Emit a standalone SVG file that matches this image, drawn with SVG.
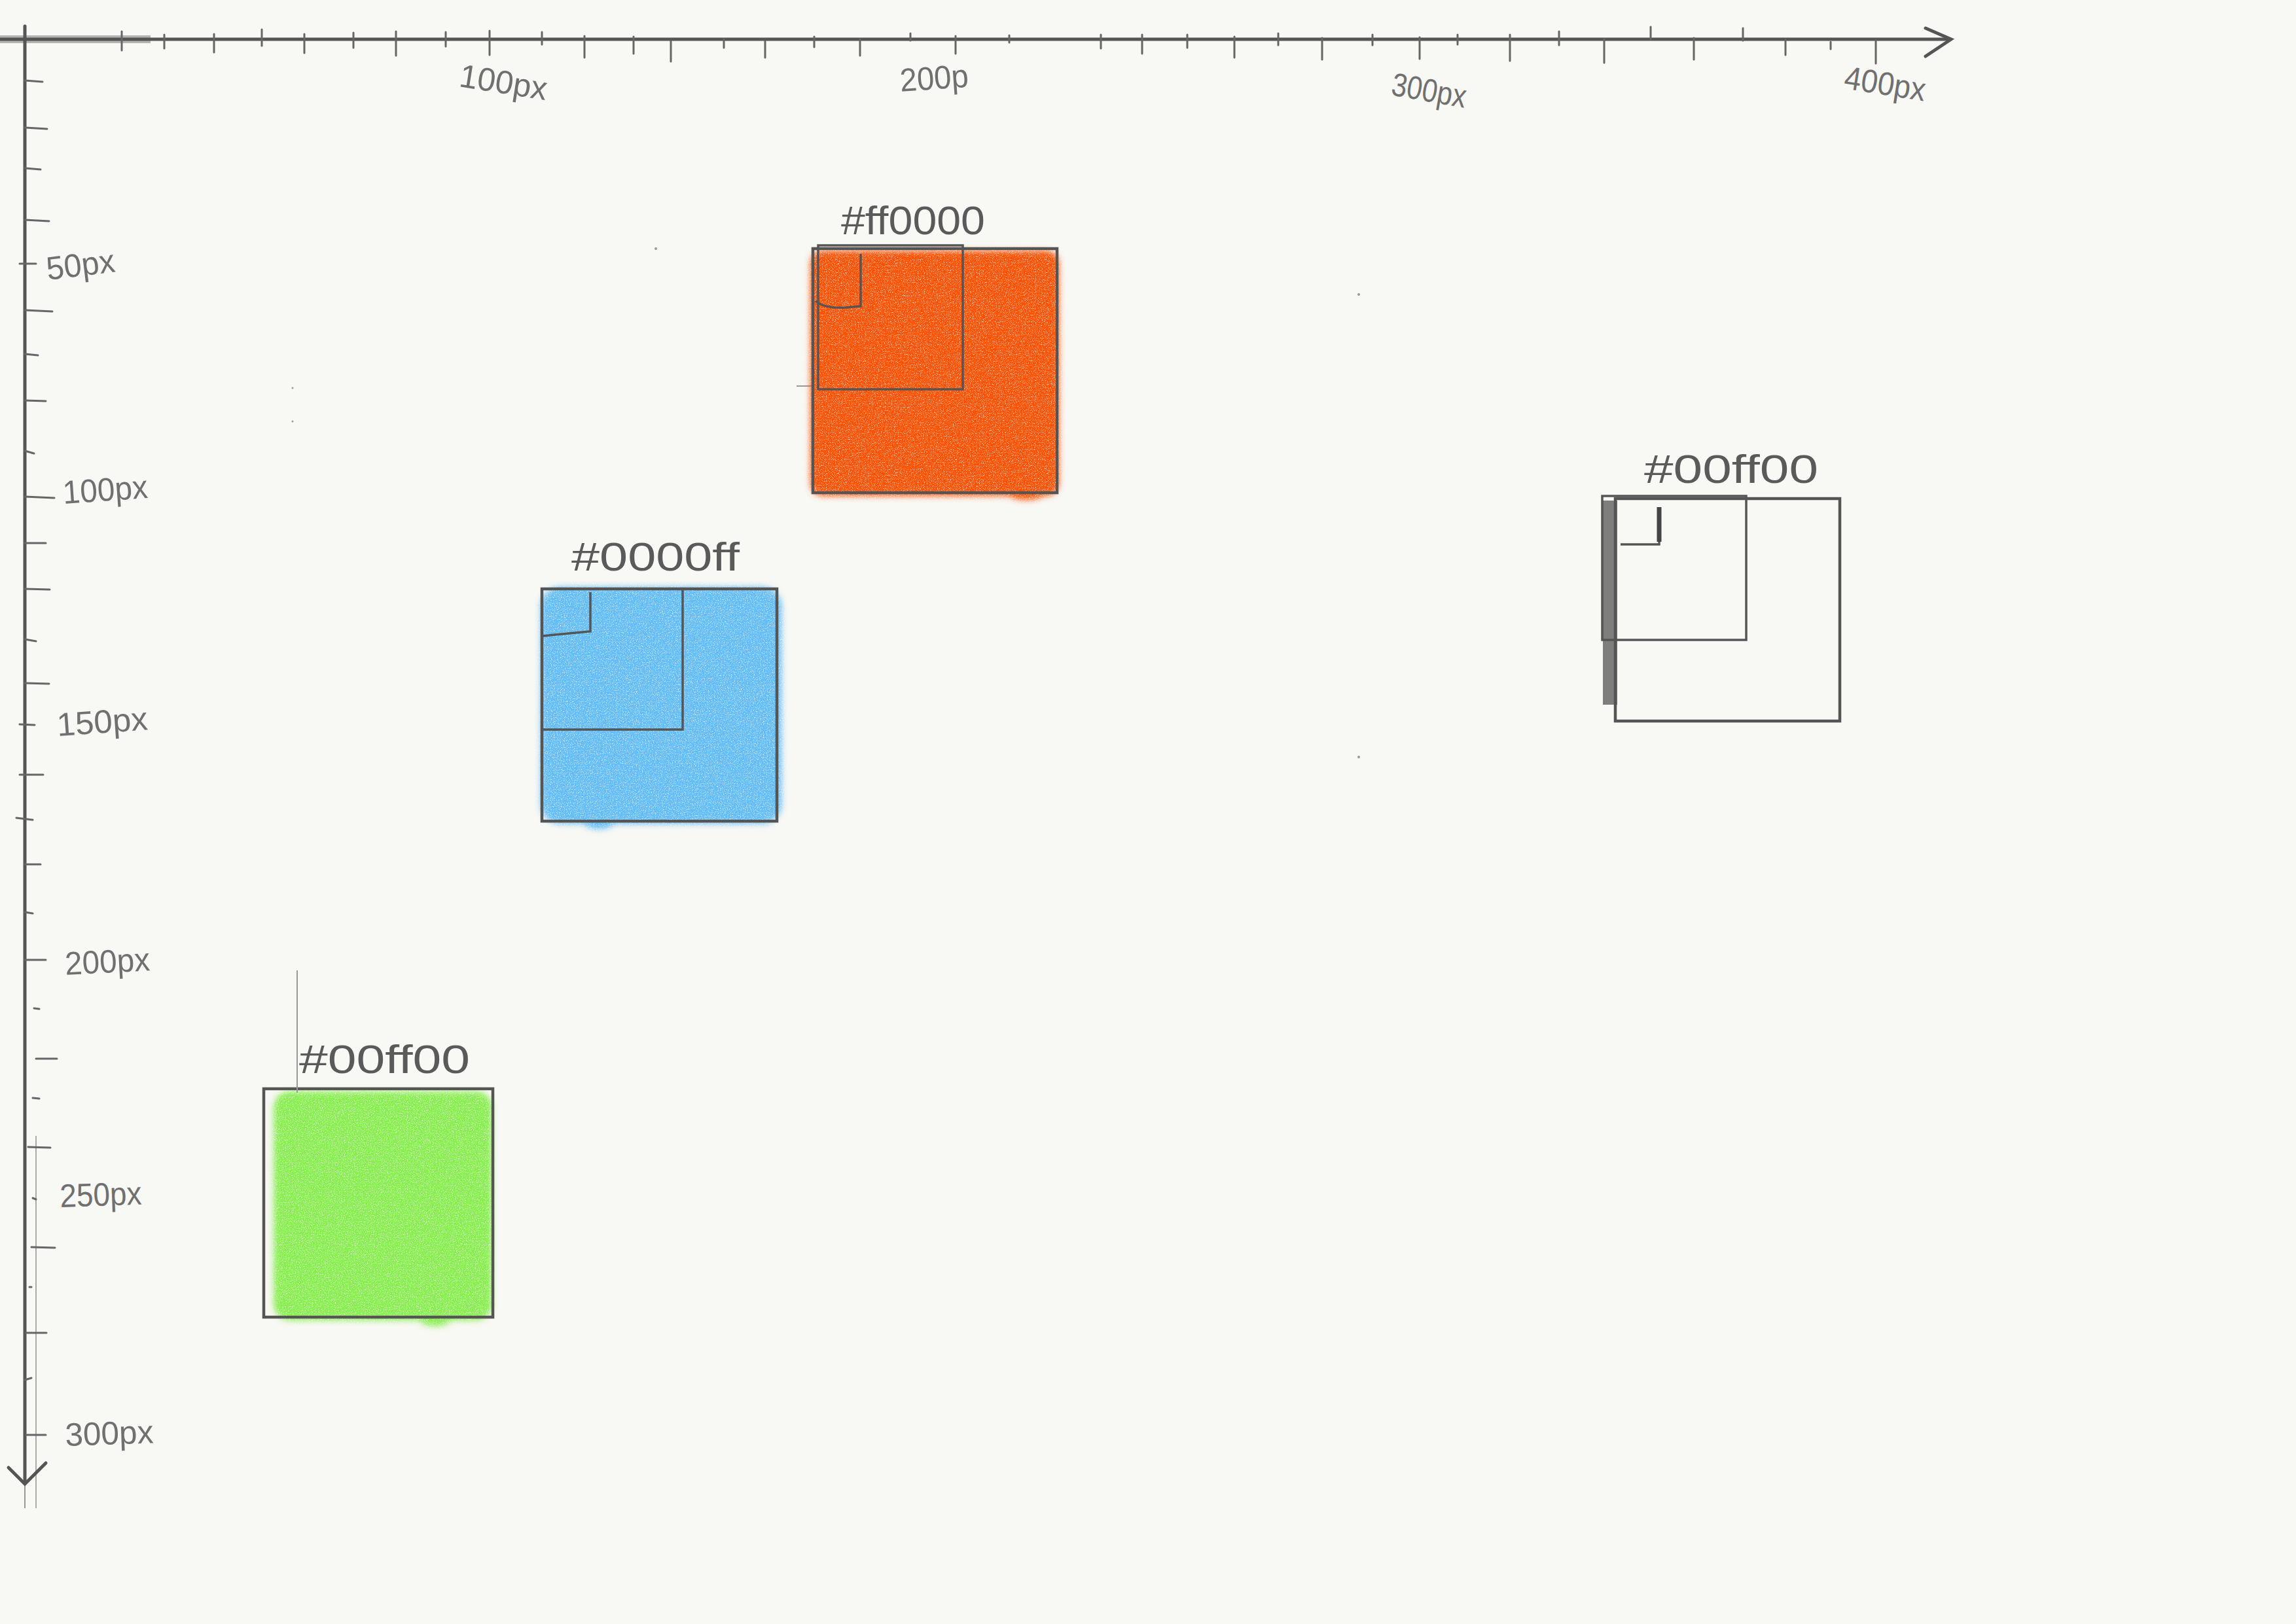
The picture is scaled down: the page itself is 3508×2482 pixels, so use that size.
<svg xmlns="http://www.w3.org/2000/svg" width="3508" height="2482" viewBox="0 0 3508 2482">
<defs>
<style>
.ax{stroke:#555;stroke-width:5;fill:none;stroke-linecap:round}
.tk{stroke:#666;stroke-width:3;fill:none;stroke-linecap:round}
.box{stroke:#555;stroke-width:4.5;fill:none}
.inner{stroke:#555;stroke-width:3.5;fill:none}
.lbl{font-family:"Liberation Sans","DejaVu Sans",sans-serif;font-size:50px;fill:#707070}
.hex{font-family:"Liberation Sans","DejaVu Sans",sans-serif;font-size:62px;fill:#5a5a5a}
</style>
<filter id="crayon" x="-5%" y="-5%" width="110%" height="110%">
<feGaussianBlur in="SourceGraphic" stdDeviation="5" result="b"/>
<feTurbulence type="fractalNoise" baseFrequency="0.8" numOctaves="2" seed="3" result="n"/>
<feColorMatrix in="n" type="matrix" values="0 0 0 0 0  0 0 0 0 0  0 0 0 0 0  0 0 0 3 -0.45" result="m"/>
<feComposite in="b" in2="m" operator="in"/>
</filter>
</defs>
<rect x="0" y="0" width="3508" height="2482" fill="#f8f8f4"/>

<g id="axes">
<line x1="0" y1="60" x2="230" y2="60" stroke="#888" stroke-width="12" opacity="0.6"/>
<line class="ax" x1="0" y1="60" x2="2978" y2="60"/>
<polyline class="ax" points="2942,43 2981,60 2942,86"/>
<line class="ax" x1="38" y1="40" x2="38" y2="2265"/>
<line x1="38" y1="2265" x2="38" y2="2305" stroke="#999" stroke-width="2"/>
<line x1="55" y1="1736" x2="55" y2="2305" stroke="#aaa" stroke-width="2"/>
<polyline class="ax" points="13,2243 38,2268 70,2236"/>
<g class="tk">
<line x1="186" y1="48" x2="186" y2="77"/><line x1="251" y1="53" x2="251" y2="74"/>
<line x1="327" y1="52" x2="327" y2="80"/><line x1="400" y1="45" x2="400" y2="70"/>
<line x1="465" y1="52" x2="465" y2="81"/><line x1="540" y1="50" x2="540" y2="73"/>
<line x1="605" y1="48" x2="605" y2="85"/><line x1="681" y1="49" x2="681" y2="71"/>
<line x1="748" y1="47" x2="748" y2="84"/><line x1="828" y1="49" x2="828" y2="68"/>
<line x1="893" y1="55" x2="893" y2="88"/><line x1="968" y1="56" x2="968" y2="82"/>
<line x1="1025" y1="63" x2="1025" y2="94"/><line x1="1106" y1="60" x2="1106" y2="73"/>
<line x1="1169" y1="63" x2="1169" y2="88"/><line x1="1244" y1="56" x2="1244" y2="72"/>
<line x1="1314" y1="60" x2="1314" y2="85"/><line x1="1391" y1="51" x2="1391" y2="62"/>
<line x1="1460" y1="55" x2="1460" y2="82"/><line x1="1542" y1="54" x2="1542" y2="65"/>
<line x1="1682" y1="53" x2="1682" y2="74"/><line x1="1745" y1="53" x2="1745" y2="82"/>
<line x1="1814" y1="53" x2="1814" y2="73"/><line x1="1886" y1="56" x2="1886" y2="88"/>
<line x1="1953" y1="51" x2="1953" y2="69"/><line x1="2020" y1="58" x2="2020" y2="91"/>
<line x1="2097" y1="53" x2="2097" y2="69"/><line x1="2169" y1="57" x2="2169" y2="90"/>
<line x1="2227" y1="53" x2="2227" y2="68"/><line x1="2307" y1="53" x2="2307" y2="93"/>
<line x1="2382" y1="48" x2="2382" y2="69"/><line x1="2451" y1="60" x2="2451" y2="96"/>
<line x1="2522" y1="41" x2="2522" y2="60"/><line x1="2588" y1="58" x2="2588" y2="91"/>
<line x1="2663" y1="43" x2="2663" y2="62"/><line x1="2728" y1="60" x2="2728" y2="84"/>
<line x1="2797" y1="64" x2="2797" y2="75"/><line x1="2866" y1="62" x2="2866" y2="97"/>
</g>
<g class="tk">
<line x1="38" y1="123" x2="65" y2="125"/><line x1="38" y1="195" x2="72" y2="197"/>
<line x1="38" y1="257" x2="62" y2="259"/><line x1="38" y1="336" x2="75" y2="338"/>
<line x1="30" y1="403" x2="55" y2="403"/><line x1="38" y1="474" x2="80" y2="476"/>
<line x1="38" y1="541" x2="58" y2="543"/><line x1="38" y1="612" x2="70" y2="613"/>
<line x1="38" y1="689" x2="52" y2="693"/><line x1="38" y1="759" x2="83" y2="761"/>
<line x1="38" y1="830" x2="70" y2="830"/><line x1="38" y1="900" x2="76" y2="901"/>
<line x1="38" y1="977" x2="55" y2="980"/><line x1="38" y1="1044" x2="75" y2="1045"/>
<line x1="30" y1="1107" x2="53" y2="1108"/><line x1="30" y1="1184" x2="66" y2="1184"/>
<line x1="25" y1="1250" x2="50" y2="1253"/><line x1="38" y1="1321" x2="62" y2="1321"/>
<line x1="38" y1="1394" x2="50" y2="1396"/><line x1="38" y1="1467" x2="70" y2="1467"/>
<line x1="52" y1="1541" x2="60" y2="1542"/><line x1="55" y1="1618" x2="87" y2="1618"/>
<line x1="50" y1="1678" x2="60" y2="1679"/><line x1="43" y1="1753" x2="77" y2="1754"/>
<line x1="50" y1="1831" x2="55" y2="1833"/><line x1="48" y1="1906" x2="84" y2="1907"/>
<line x1="45" y1="1967" x2="48" y2="1967"/><line x1="40" y1="2037" x2="71" y2="2037"/>
<line x1="38" y1="2109" x2="48" y2="2106"/><line x1="40" y1="2193" x2="70" y2="2193"/>
</g>
<g class="lbl">
<text x="700" y="132" transform="rotate(9 700 132)" textLength="135" lengthAdjust="spacingAndGlyphs">100px</text>
<text x="1376" y="140" transform="rotate(-4 1376 140)" textLength="105" lengthAdjust="spacingAndGlyphs">200p</text>
<text x="2124" y="145" transform="rotate(10 2124 145)" textLength="115" lengthAdjust="spacingAndGlyphs">300px</text>
<text x="2816" y="135" transform="rotate(9 2816 135)" textLength="125" lengthAdjust="spacingAndGlyphs">400px</text>
<text x="73" y="428" transform="rotate(-7 73 428)" textLength="105" lengthAdjust="spacingAndGlyphs">50px</text>
<text x="97" y="770" transform="rotate(-4 97 770)" textLength="130" lengthAdjust="spacingAndGlyphs">100px</text>
<text x="88" y="1125" transform="rotate(-4 88 1125)" textLength="139" lengthAdjust="spacingAndGlyphs">150px</text>
<text x="100" y="1490" transform="rotate(-3 100 1490)" textLength="130" lengthAdjust="spacingAndGlyphs">200px</text>
<text x="92" y="1845" transform="rotate(-2 92 1845)" textLength="125" lengthAdjust="spacingAndGlyphs">250px</text>
<text x="100" y="2210" transform="rotate(-2 100 2210)" textLength="135" lengthAdjust="spacingAndGlyphs">300px</text>
</g>
</g>

<g id="specks" fill="#999">
<circle cx="1002" cy="380" r="2"/><circle cx="2076" cy="450" r="2"/>
<circle cx="447" cy="593" r="1.5"/><circle cx="447" cy="644" r="1.5"/>
<circle cx="2076" cy="1157" r="2"/>
<line x1="1217" y1="590" x2="1240" y2="590" stroke="#999" stroke-width="2"/>
</g>

<g id="node-red">
<g filter="url(#crayon)" fill="#ff5000">
<rect x="1238" y="383" width="380" height="375" rx="20"/>
<ellipse cx="1568" cy="752" rx="30" ry="12"/>
</g>
<rect class="box" x="1242" y="380" width="373" height="373"/>
<rect class="inner" x="1250" y="375" width="221" height="220"/>
<path class="inner" d="M1246,460 Q1260,472 1292,470 L1315,468 L1315,388"/>
<text class="hex" x="1285" y="358" textLength="220" lengthAdjust="spacingAndGlyphs">#ff0000</text>
</g>

<g id="node-blue">
<g filter="url(#crayon)" fill="#62bcf6">
<rect x="826" y="897" width="368" height="362" rx="30"/>
<ellipse cx="915" cy="1255" rx="25" ry="12"/>
</g>
<rect class="box" x="828" y="900" width="359" height="355"/>
<rect class="inner" x="828" y="900" width="215" height="215"/>
<path class="inner" d="M830,972 L848,970 L902,965 L902,905"/>
<text class="hex" x="873" y="872" textLength="257" lengthAdjust="spacingAndGlyphs">#0000ff</text>
</g>

<g id="node-green">
<g filter="url(#crayon)" fill="#88ee50">
<rect x="418" y="1668" width="334" height="350" rx="25"/>
<ellipse cx="665" cy="2015" rx="25" ry="12"/>
</g>
<rect class="box" x="403" y="1664" width="350" height="349"/>
<line x1="454" y1="1483" x2="454" y2="1670" stroke="#999" stroke-width="2"/>
<text class="hex" x="457" y="1640" textLength="261" lengthAdjust="spacingAndGlyphs">#00ff00</text>
</g>

<g id="node-outline">
<rect x="2449" y="765" width="22" height="312" fill="#4a4a4a" opacity="0.7"/>
<rect class="box" x="2468" y="762" width="343" height="340"/>
<rect class="inner" x="2448" y="758" width="220" height="220"/>
<path class="inner" d="M2536,775 L2535,832 L2476,832"/>
<line x1="2535" y1="775" x2="2535" y2="828" stroke="#444" stroke-width="7"/>
<text class="hex" x="2512" y="738" textLength="266" lengthAdjust="spacingAndGlyphs">#00ff00</text>
</g>
</svg>
